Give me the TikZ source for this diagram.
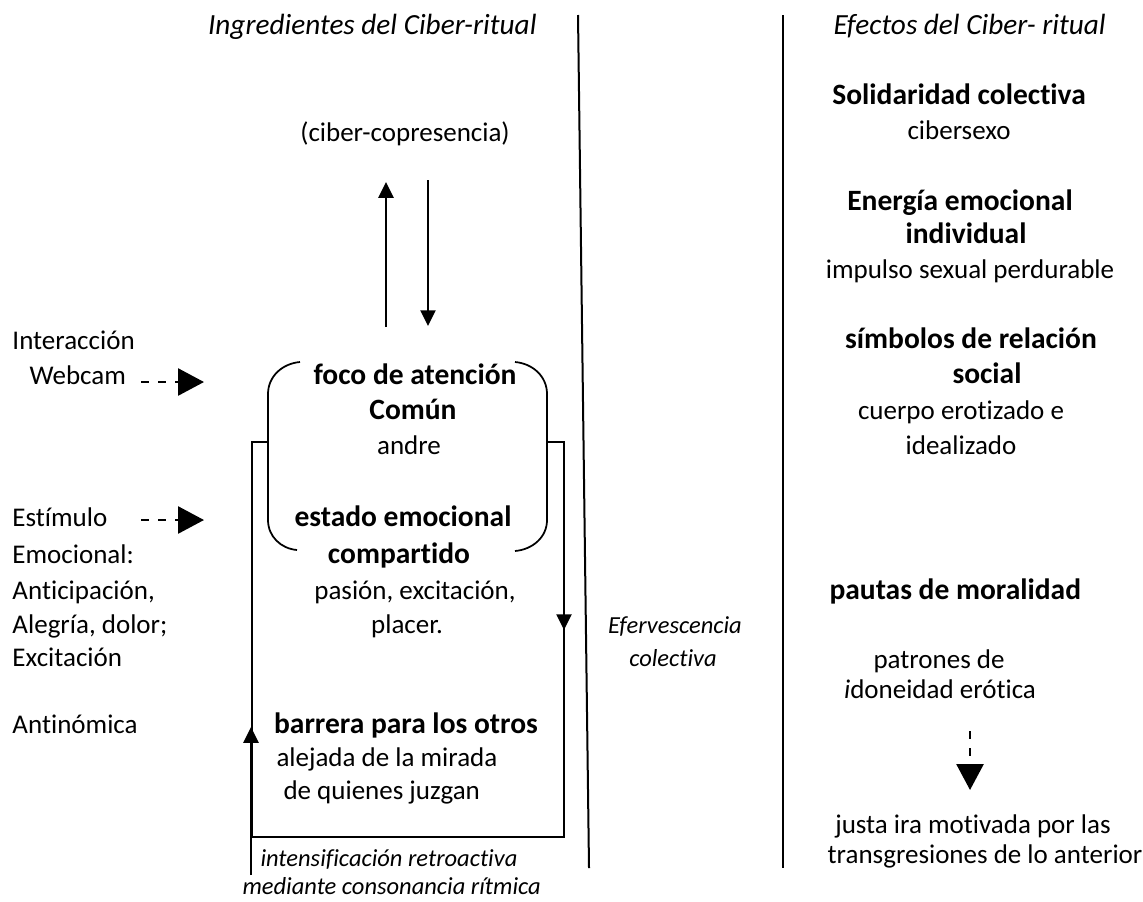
\documentclass[tikz,border=0pt]{standalone}
\usepackage{fontspec}
\setmainfont{Carlito}[Ligatures=NoCommon]
\usetikzlibrary{positioning}
\usetikzlibrary{arrows.meta}

\begin{document}
\begin{tikzpicture}[x=0.4pt,y=-0.4pt,
  txt/.style={inner sep=0pt,text height=8pt,text depth=2.5pt,font=\fontsize{10.8}{13}\selectfont},
  hd/.style={txt,font=\fontsize{11.8}{14}\selectfont\bfseries},
  itx/.style={txt,font=\fontsize{11.7}{14}\selectfont\itshape},
  smit/.style={txt,font=\fontsize{9.8}{12}\selectfont\itshape},
  thinline/.style={line width=0.7pt},
  solidarr/.style={line width=1pt,-{Triangle[length=6.3pt,width=6pt]}},
  dasharr/.style={line width=1.1pt,dash pattern=on 3.2pt off 3.6pt,-{Triangle[length=10.4pt,width=10.8pt]}}]
 \fill[white](0,0) rectangle (1143,897);
 % column dividers
 \draw[line width=0.8pt](578,15)--(589,868);
 \draw[line width=0.8pt](783,15)--(783,868);
 % headers
 \node[itx,anchor=east] (ingr) at (537,28) {Ingredientes del Ciber-ritual};
 \node[itx,anchor=west] (efec) at (833,28) {Efectos del Ciber- ritual};
 \node[txt] (copres) at (405,135) {(ciber-copresencia)};
 % left column
 \node[txt,anchor=west] (inter) at (12,343) {Interacción};
 \node[txt,anchor=west] (webcam) at (29,378) {Webcam};
 \node[txt,anchor=west] (estim) at (12,520) {Estímulo};
 \node[txt,anchor=west] (emoc) at (12,557) {Emocional:};
 \node[txt,anchor=west] (antic) at (12,593) {Anticipación,};
 \node[txt,anchor=west] (alegr) at (12,627) {Alegría, dolor;};
 \node[txt,anchor=west] (excit) at (12,660) {Excitación};
 \node[txt,anchor=west] (antin) at (12,727) {Antinómica};
 % bracket and loop box
 \draw[thinline](300,362) to[out=185,in=90] (268,394)--(268,520) to[out=-90,in=175] (297,550);
 \draw[thinline](515,362) to[out=-5,in=90] (547,394)--(547,520) to[out=-90,in=5] (515,551);
 \draw[thinline](268,442)--(252,442)--(252,837)--(564,837)--(564,442)--(547,442);
 \node[hd] (foco) at (415,378) {foco de atención};
 \node[hd] (comun) at (413,413) {Común};
 \node[txt] (andre) at (409,448) {andre};
 \node[hd] (estado) at (403,520) {estado emocional};
 \node[hd] (compart) at (399,557) {compartido};
 \node[txt] (pasion) at (415,593) {pasión, excitación,};
 \node[txt] (placer) at (407,627) {placer.};
 \node[hd] (barrera) at (406,727) {barrera para los otros};
 \node[txt,anchor=west] (alejada) at (276,760) {alejada de la mirada};
 \node[txt,anchor=west] (quienes) at (283,793) {de quienes juzgan};
 \node[smit,anchor=west] (intens) at (260,860) {intensificación retroactiva};
 \node[smit,anchor=west] (mediante) at (242,888) {mediante consonancia rítmica};
 % middle column
 \node[smit] (eferv) at (675,627) {Efervescencia};
 \node[smit] (colect) at (673,660) {colectiva};
 % right column
 \node[hd] (solid) at (959,98) {Solidaridad colectiva};
 \node[txt] (cibersexo) at (959,133) {cibersexo};
 \node[hd] (energia) at (960,204) {Energía emocional};
 \node[hd] (indiv) at (966,237) {individual};
 \node[txt] (impulso) at (970,272) {impulso sexual perdurable};
 \node[hd] (simb) at (971,342) {símbolos de relación};
 \node[hd] (social) at (987,377) {social};
 \node[txt] (cuerpo) at (961,413) {cuerpo erotizado e};
 \node[txt] (ideal) at (961,448) {idealizado};
 \node[hd,anchor=west] (pautas) at (829,593) {pautas de moralidad};
 \node[txt] (patrones) at (939,662) {patrones de};
 \node[txt] (idon) at (940,692) {\textit{i}doneidad erótica};
 \node[txt] (justa) at (973,827) {justa ira motivada por las};
 \node[txt] (transg) at (985,857) {transgresiones de lo anterior};
 % arrows
 \coordinate (upS) at (386,327); \coordinate (upE) at (386,182);
 \coordinate (dnS) at (428,180); \coordinate (dnE) at (428,326);
 \coordinate (rtS) at (564,442); \coordinate (rtE) at (564,630);
 \coordinate (ltS) at (251,875); \coordinate (ltE) at (251,727);
 \coordinate (webS) at (141,382); \coordinate (webE) at (204,382);
 \coordinate (estS) at (141,520); \coordinate (estE) at (204,520);
 \coordinate (morS) at (970,731); \coordinate (morE) at (970,790);
 \draw[solidarr](upS)--(upE);
 \draw[solidarr](dnS)--(dnE);
 \draw[solidarr](rtS)--(rtE);
 \draw[solidarr](ltS)--(ltE);
 \draw[dasharr](webS)--(webE);
 \draw[dasharr](estS)--(estE);
 \draw[dasharr](morS)--(morE);
\end{tikzpicture}
\end{document}
